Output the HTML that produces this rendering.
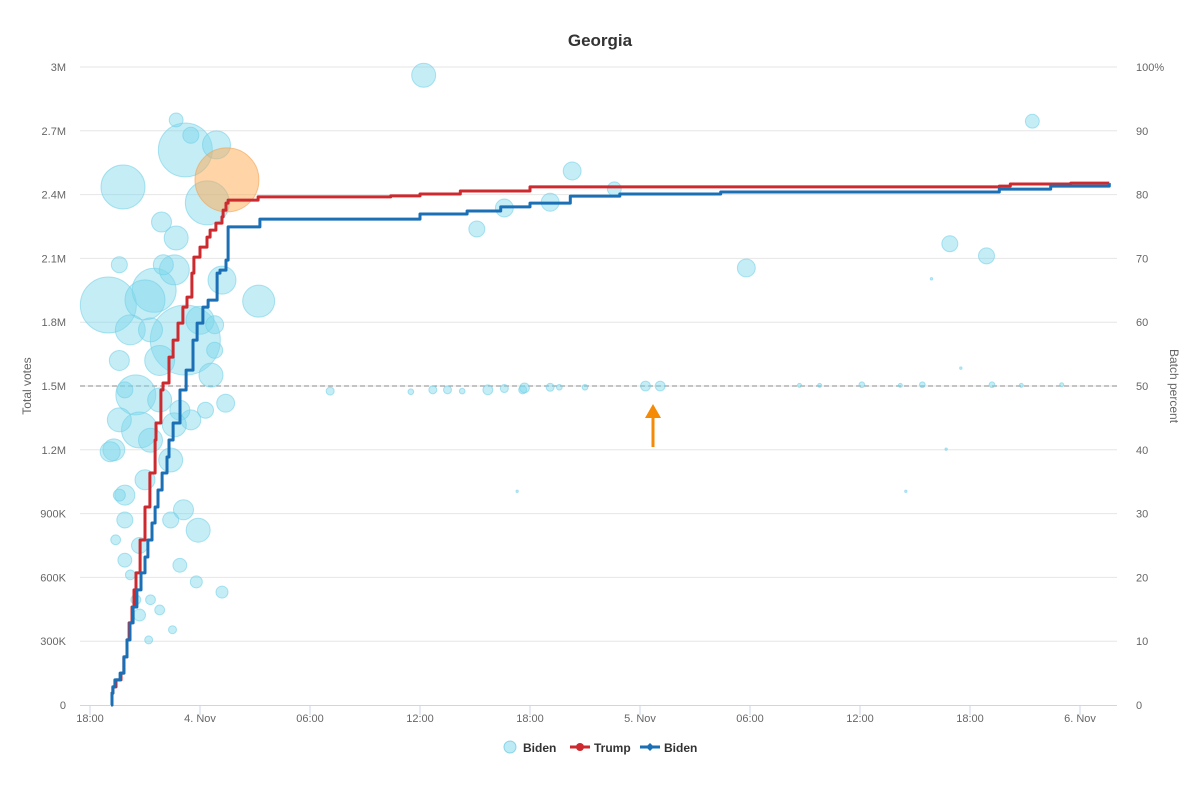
<!DOCTYPE html>
<html><head><meta charset="utf-8"><style>
html,body{margin:0;padding:0;background:#fff;}
svg text{font-family:"Liberation Sans",Arial,sans-serif;}
</style></head><body>
<svg id="chart" width="1200" height="795" viewBox="0 0 1200 795" xmlns="http://www.w3.org/2000/svg">
<rect width="1200" height="795" fill="#fff"/>
<text x="600" y="46" text-anchor="middle" font-size="17" font-weight="bold" fill="#333">Georgia</text>
<g id="grid"></g><g id="axes"></g><g id="bubbles"></g><g id="lines"></g>
<text transform="translate(31,386) rotate(-90)" text-anchor="middle" font-size="12" fill="#666">Total votes</text>
<text transform="translate(1170,386) rotate(90)" text-anchor="middle" font-size="12" fill="#666">Batch percent</text>
<g>
<line x1="653" y1="447" x2="653" y2="415" stroke="#f58a07" stroke-width="3"/>
<polygon points="645,418 661,418 653,404" fill="#f58a07"/>
</g>
<g>
<g><circle cx="510" cy="747" r="6" fill="rgba(124,215,235,0.5)" stroke="rgba(100,200,225,0.7)"/><text x="523" y="752" font-size="12" font-weight="bold" fill="#333">Biden</text></g>
<g><line x1="570" y1="747" x2="590" y2="747" stroke="#cc2a2f" stroke-width="3"/><circle cx="580" cy="747" r="4" fill="#cc2a2f"/><text x="594" y="752" font-size="12" font-weight="bold" fill="#333">Trump</text></g>
<g><line x1="640" y1="747" x2="660" y2="747" stroke="#1a6fb5" stroke-width="3"/><polygon points="650,743 654,747 650,751 646,747" fill="#1a6fb5"/><text x="664" y="752" font-size="12" font-weight="bold" fill="#333">Biden</text></g>
</g>
</svg>
<script>
const xTickLabels=["18:00","4. Nov","06:00","12:00","18:00","5. Nov","06:00","12:00","18:00","6. Nov"];
const yTickLabels=["0","300K","600K","900K","1.2M","1.5M","1.8M","2.1M","2.4M","2.7M","3M"];
const y2TickLabels=["0","10","20","30","40","50","60","70","80","90","100%"];
const trumpHours=[1.15,1.20,1.25,1.42,1.69,1.85,2.02,2.13,2.29,2.40,2.51,2.73,3.00,3.27,3.55,3.60,3.87,3.98,4.31,4.53,4.80,5.07,5.29,5.56,5.67,6.0,6.38,6.55,6.87,7.20,7.26,7.42,7.53,9.17,16.4,18.0,20.2,24.0,49.6,50.2,53.5,55.6];
const trumpVotes=[0,56,85,118,150,226,306,386,461,541,621,776,931,1091,1246,1326,1481,1514,1636,1716,1796,1871,1918,2031,2106,2153,2200,2233,2266,2295,2327,2360,2374,2389,2394,2403,2417,2436,2440,2450,2454,2454];
const bidenHours=[1.15,1.20,1.25,1.36,1.64,1.85,2.02,2.18,2.35,2.56,2.78,3.0,3.16,3.38,3.55,3.71,3.93,4.2,4.31,4.53,4.91,5.24,5.62,5.84,6.16,6.44,6.93,7.09,7.42,7.53,9.27,18.0,20.57,22.4,24.0,26.2,28.9,34.4,49.6,52.4,55.6];
const bidenVotes=[0,56,85,118,150,226,306,386,461,541,621,696,776,856,931,1011,1091,1166,1246,1326,1481,1575,1716,1796,1871,1904,2031,2045,2092,2248,2285,2309,2323,2342,2360,2393,2403,2412,2426,2440,2454];
const batchHours=[1.8,1.0,5.2,6.4,6.9,4.7,3.9,4.7,5.5,9.2,3.5,3.0,4.6,5.2,2.2,1.6,2.5,2.7,1.6,1.3,4.4,5.5,6.6,6.8,7.2,7.4,6.3,4.9,3.0,1.9,5.1,5.9,4.4,4.9,5.8,7.2,2.7,1.9,3.3,3.8,3.2,4.5,1.9,1.1,1.6,2.5,2.2,1.4,2.7,3.8,6.0,6.8,3.3,1.9,3.8,4.6,3.3,4.0,1.6,
18.2,26.3,28.6,25.1,22.6,21.1,35.8,46.9,48.9,51.4,
13.1,17.5,18.7,19.5,20.3,21.7,22.6,23.6,23.7,25.1,25.6,27.0,30.3,31.1,38.7,39.8,42.1,44.2,45.4,49.2,50.8,53.0,
23.3,44.5,46.7,45.9,47.5];
const batchPct=[81.2,62.7,87,78.7,87.8,73.2,75.7,91.7,89.3,63.3,65,63.5,68.2,57.2,58.8,54,48.6,43.1,44.7,40,38.4,44.7,51.7,55.6,66.6,47.3,46.2,46.2,35.3,32.9,30.6,27.4,29,21.9,19.3,17.7,25,22.7,16.5,14.9,10.2,11.8,29,39.7,32.9,16.5,20.4,25.9,14.1,54,60.3,59.6,58.8,49.4,47.8,43.9,41.5,69,69,
98.7,83.7,80.9,78.8,77.9,74.6,68.5,72.3,70.4,91.5,
49.2,49.1,49.4,49.4,49.2,49.4,49.6,49.4,49.7,49.8,49.8,49.8,50.0,50.0,50.1,50.1,50.2,50.1,50.2,50.2,50.1,50.2,
33.5,33.5,40.1,66.8,52.8];
const batchVotes=[121,196,182,121,49,36,25,12,16,64,121,100,56,306,56,25,100,81,36,30,36,25,36,16,49,20,16,25,25,25,25,36,16,12,9,9,16,12,6,6,4,4,16,25,9,6,6,6,9,56,49,20,36,16,36,36,36,25,16,
36,20,12,20,20,16,20,16,16,12,
4,2,4,4,2,6,4,4,6,4,2,2,6,6,1,1,2,1,2,2,1,1,
0.3,0.3,0.3,0.3,0.3];
const L=80,R=1117,T=67,B=705;
const xS=h=>90+h*110/6;
const yS=v=>B-(v/3000)*(B-T);
const pS=p=>B-(p/100)*(B-T);
const rS=z=>Math.max(1.2,2*Math.sqrt(z));
const NS="http://www.w3.org/2000/svg";
function mk(tag,attrs,parent){const e=document.createElementNS(NS,tag);for(const k in attrs)e.setAttribute(k,attrs[k]);parent.appendChild(e);return e;}
const grid=document.getElementById('grid'),axes=document.getElementById('axes');
yTickLabels.forEach((t,i)=>{const y=yS(i*300);
 if(i>0){const g=mk('line',{x1:L,x2:R,y1:y,y2:y,stroke:'#e6e6e6','stroke-width':1},grid);
 
 }
 const tx=mk('text',{x:66,y:y+4,'text-anchor':'end','font-size':11,fill:'#666'},axes);tx.textContent=t;
 
 
 const t2=mk('text',{x:1136,y:y+4,'font-size':11,fill:'#666'},axes);t2.textContent=y2TickLabels[i];
 
 
});
const dl=mk('line',{x1:L,x2:R,y1:pS(50),y2:pS(50),stroke:'#888','stroke-width':1,'stroke-dasharray':'5,3'},grid);


const xa=mk('line',{x1:L,x2:R,y1:B+0.5,y2:B+0.5,stroke:'#ccd6eb','stroke-width':1},axes);


xTickLabels.forEach((t,i)=>{const x=xS(i*6);
 mk('line',{x1:x,x2:x,y1:B,y2:B+10,stroke:'#ccd6eb'},axes);
 const tx=mk('text',{x:x,y:B+17,'text-anchor':'middle','font-size':11,fill:'#666'},axes);tx.textContent=t;
 
 
});
const bg=document.getElementById('bubbles');
batchHours.forEach((h,i)=>{
 const c=mk('circle',{cx:xS(h),cy:pS(batchPct[i]),r:rS(batchVotes[i]),fill:'rgba(124,215,235,0.45)',stroke:'rgba(110,205,230,0.55)','stroke-width':1},bg);
 
 
});
const hb=mk('circle',{cx:xS(7.47),cy:pS(82.3),r:32,fill:'rgba(255,170,80,0.5)',stroke:'rgba(240,160,80,0.6)'},bg);


const lg=document.getElementById('lines');
function step(hs,vs){let d='';hs.forEach((h,i)=>{const x=xS(h).toFixed(1),y=yS(vs[i]).toFixed(1);
 if(i===0)d+='M'+x+','+y;else d+='L'+x+','+yS(vs[i-1]).toFixed(1)+'L'+x+','+y;});return d;}
const tl=mk('path',{d:step(trumpHours,trumpVotes),fill:'none',stroke:'#cc2a2f','stroke-width':3,'stroke-linejoin':'round'},lg);


const bl=mk('path',{d:step(bidenHours,bidenVotes),fill:'none',stroke:'#1a6fb5','stroke-width':3,'stroke-linejoin':'round'},lg);


</script>
</body></html>
